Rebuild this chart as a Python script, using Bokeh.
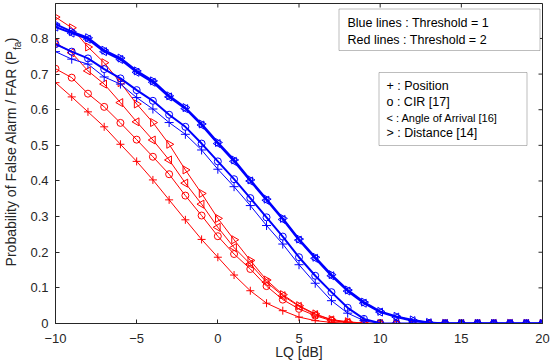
import math
from bokeh.plotting import figure
from bokeh.layouts import row
from bokeh.models import Range1d, FixedTicker, Label, BoxAnnotation
from bokeh.core.properties import value
from bokeh.embed import file_html
from bokeh.resources import INLINE

# ---------------- data ----------------
lq_db = list(range(-10, 21))

blue_position = [0.763, 0.742, 0.728, 0.692, 0.672, 0.634, 0.602, 0.564, 0.531, 0.487,
                 0.433, 0.384, 0.331, 0.275, 0.223, 0.165, 0.113, 0.064, 0.029, 0.008,
                 0.0, 0.0, 0.0, 0.0, 0.0, 0.0, 0.0, 0.0, 0.0, 0.0, 0.0]
blue_cir = [0.784, 0.763, 0.744, 0.714, 0.688, 0.655, 0.625, 0.586, 0.552, 0.505,
            0.455, 0.405, 0.352, 0.298, 0.244, 0.186, 0.134, 0.088, 0.044, 0.013,
            0.001, 0.0, 0.0, 0.0, 0.0, 0.0, 0.0, 0.0, 0.0, 0.0, 0.0]
blue_aoa = [0.832, 0.815, 0.798, 0.763, 0.741, 0.705, 0.677, 0.636, 0.603, 0.557,
            0.505, 0.455, 0.400, 0.346, 0.292, 0.234, 0.183, 0.134, 0.091, 0.057,
            0.032, 0.018, 0.008, 0.002, 0.0, 0.0, 0.0, 0.0, 0.0, 0.0, 0.0]
blue_distance = [0.840, 0.819, 0.802, 0.767, 0.745, 0.709, 0.681, 0.639, 0.606, 0.560,
                 0.508, 0.459, 0.403, 0.349, 0.295, 0.237, 0.186, 0.137, 0.094, 0.060,
                 0.034, 0.020, 0.010, 0.003, 0.0, 0.0, 0.0, 0.0, 0.0, 0.0, 0.0]

red_position = [0.676, 0.636, 0.594, 0.552, 0.503, 0.455, 0.403, 0.347, 0.291, 0.236,
                0.186, 0.136, 0.092, 0.057, 0.036, 0.018, 0.008, 0.003, 0.001, 0.0,
                0.0, 0.0, 0.0, 0.0, 0.0, 0.0, 0.0, 0.0, 0.0, 0.0, 0.0]
red_cir = [0.715, 0.690, 0.645, 0.608, 0.563, 0.516, 0.468, 0.419, 0.359, 0.303,
           0.245, 0.195, 0.153, 0.105, 0.067, 0.041, 0.022, 0.008, 0.003, 0.0,
           0.0, 0.0, 0.0, 0.0, 0.0, 0.0, 0.0, 0.0, 0.0, 0.0, 0.0]
red_aoa = [0.788, 0.760, 0.709, 0.672, 0.620, 0.566, 0.515, 0.459, 0.394, 0.335,
           0.270, 0.213, 0.167, 0.116, 0.078, 0.048, 0.025, 0.010, 0.003, 0.001,
           0.0, 0.0, 0.0, 0.0, 0.0, 0.0, 0.0, 0.0, 0.0, 0.0, 0.0]
red_distance = [0.860, 0.830, 0.776, 0.732, 0.676, 0.616, 0.564, 0.503, 0.431, 0.365,
                0.295, 0.235, 0.177, 0.122, 0.081, 0.050, 0.027, 0.011, 0.005, 0.001,
                0.0, 0.0, 0.0, 0.0, 0.0, 0.0, 0.0, 0.0, 0.0, 0.0, 0.0]

x_ticks = [-10, -5, 0, 5, 10, 15, 20]
y_ticks = [0, 0.1, 0.2, 0.3, 0.4, 0.5, 0.6, 0.7, 0.8]

x_title = "LQ [dB]"
y_title_main = "Probability of False Alarm / FAR (P"
y_title_sub = "fa"
y_title_end = ")"
legend1_lines = ["Blue lines : Threshold = 1", "Red lines : Threshold = 2"]
legend2_lines = ["+ : Position", "o : CIR [17]", "< : Angle of Arrival [16]", "> : Distance [14]"]

# ---------------- layout helpers ----------------
LABEL_W = 22
X0, X1 = -10, 20
FL, FR, FT, FB = 55, 542, 3, 323          # frame edges in page pixels
Y0 = 0.0
Y1 = (FB - FT) / 356.3                     # 0.8 sits 285 px above 0
FONT = "Liberation Sans"
INK = "#262626"


def px2x(px):
    return X0 + (px - FL) * (X1 - X0) / (FR - FL)


def py2y(py):
    return Y0 + (FB - py) * (Y1 - Y0) / (FB - FT)


# ---------------- y-title strip ----------------
lab = figure(width=LABEL_W, height=364, output_backend="svg", toolbar_location=None,
             x_range=Range1d(0, LABEL_W), y_range=Range1d(0, 364),
             x_axis_type=None, y_axis_type=None,
             min_border_left=0, min_border_right=0, min_border_top=0, min_border_bottom=0)
lab.grid.visible = False
lab.outline_line_color = None
lab.text(x=[10], y=[364 - 53], text=[y_title_main], angle=math.pi / 2,
         text_font=value(FONT), text_font_size="14px", text_color=INK,
         text_align="right", text_baseline="middle")
lab.text(x=[16.5], y=[364 - 53], text=[y_title_sub], angle=math.pi / 2,
         text_font=value(FONT), text_font_size="10px", text_color=INK,
         text_align="left", text_baseline="middle")
lab.text(x=[10], y=[364 - 44], text=[y_title_end], angle=math.pi / 2,
         text_font=value(FONT), text_font_size="14px", text_color=INK,
         text_align="left", text_baseline="middle")

# ---------------- main plot ----------------
p = figure(width=550 - LABEL_W, height=364, output_backend="svg", toolbar_location=None,
           x_range=Range1d(X0, X1), y_range=Range1d(Y0, Y1),
           min_border_left=FL - LABEL_W, min_border_right=550 - FR,
           min_border_top=FT, min_border_bottom=364 - FB)
p.grid.visible = False
p.outline_line_color = INK
p.background_fill_color = "white"
p.border_fill_color = "white"

for ax in (p.xaxis[0], p.yaxis[0]):
    ax.axis_line_color = INK
    ax.major_tick_line_color = INK
    ax.major_tick_in = 4
    ax.major_tick_out = 0
    ax.minor_tick_line_color = None
    ax.major_label_text_font = FONT
    ax.major_label_text_color = INK
    ax.major_label_text_font_size = "13px"

p.xaxis.ticker = FixedTicker(ticks=x_ticks)
p.yaxis.ticker = FixedTicker(ticks=y_ticks)
p.yaxis.major_label_overrides = {t: f"{t:g}" for t in y_ticks}
p.xaxis.major_label_standoff = 10
p.yaxis.major_label_standoff = 7
p.xaxis.axis_label = x_title
p.xaxis.axis_label_text_font = FONT
p.xaxis.axis_label_text_font_size = "14px"
p.xaxis.axis_label_text_font_style = "normal"
p.xaxis.axis_label_text_color = INK
p.xaxis.axis_label_standoff = -2

# inward ticks on the top and right edges of the box
tick_dx = 4 * (X1 - X0) / (FR - FL)
tick_dy = 4 * (Y1 - Y0) / (FB - FT)
p.segment(x0=x_ticks, y0=[Y1] * len(x_ticks), x1=x_ticks, y1=[Y1 - tick_dy] * len(x_ticks),
          line_color=INK, line_width=1)
p.segment(x0=[X1] * len(y_ticks), y0=y_ticks, x1=[X1 - tick_dx] * len(y_ticks), y1=y_ticks,
          line_color=INK, line_width=1)

# ---------------- series ----------------
RED = "#ff0000"
BLUE = "#0000ff"
series = [
    (red_position, RED, "cross", 0.0, 1.0, 8),
    (red_cir, RED, "circle", 0.0, 1.0, 7),
    (red_aoa, RED, "triangle", math.pi / 2, 1.0, 8),
    (red_distance, RED, "triangle", -math.pi / 2, 1.0, 8),
    (blue_position, BLUE, "cross", 0.0, 1.0, 9),
    (blue_cir, BLUE, "circle", 0.0, 2.0, 7),
    (blue_aoa, BLUE, "triangle", math.pi / 2, 2.0, 8),
    (blue_distance, BLUE, "triangle", -math.pi / 2, 2.0, 8),
]
for ys, col, mk, ang, lw, sz in series:
    p.line(lq_db, ys, line_color=col, line_width=lw)
    p.scatter(lq_db, ys, marker=mk, angle=ang, size=sz, line_color=col,
              fill_color=None, line_width=1.0)

# ---------------- legend boxes ----------------
p.add_layout(BoxAnnotation(left=px2x(338.5), right=px2x(539.5), top=py2y(8.5), bottom=py2y(50),
                           fill_color="white", fill_alpha=1.0, line_color=INK, line_width=1))
for i, t in enumerate(legend1_lines):
    p.add_layout(Label(x=px2x(347), y=py2y(22.5 + 16.5 * i), text=t, text_font=FONT,
                       text_font_size="12.5px", text_color="black", text_baseline="middle"))

p.add_layout(BoxAnnotation(left=px2x(378.5), right=px2x(526.5), top=py2y(72), bottom=py2y(145),
                           fill_color="white", fill_alpha=1.0, line_color=INK, line_width=1))
for i, t in enumerate(legend2_lines):
    fs = "11px" if i == 2 else "12.5px"
    p.add_layout(Label(x=px2x(386), y=py2y(85.5 + 15.8 * i), text=t, text_font=FONT,
                       text_font_size=fs, text_color="black", text_baseline="middle"))

layout = row(lab, p, spacing=0)
open("out.html", "w").write(file_html(layout, INLINE))
